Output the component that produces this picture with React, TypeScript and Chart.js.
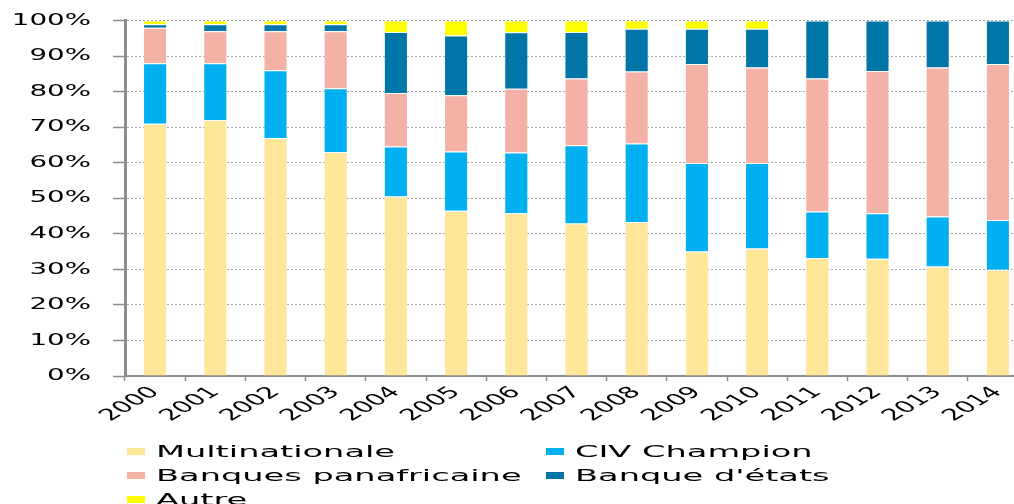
import React, { useEffect, useRef } from "react";
import { Chart, registerables } from "chart.js";

Chart.register(...registerables);

const years = ["2000", "2001", "2002", "2003", "2004", "2005", "2006", "2007", "2008", "2009", "2010", "2011", "2012", "2013", "2014"];
const multinationale = [71, 72, 67, 63, 50.5, 46.5, 45.8, 42.9, 43.3, 35, 35.9, 33.2, 33, 30.8, 29.9];
const civChampion = [17, 16, 19, 18, 14.1, 16.7, 17.1, 22, 22.1, 24.9, 24, 13.1, 12.8, 14.1, 14];
const banquesPanafricaine = [10, 9, 11, 16, 15, 15.8, 17.9, 18.8, 20.3, 27.9, 26.9, 37.4, 40, 41.9, 43.9];
const banqueEtats = [1, 2, 2, 2, 17.2, 16.8, 15.9, 13.1, 12, 9.9, 10.9, 16.3, 14.2, 13.2, 12.2];
const autre = [1, 1, 1, 1, 3.2, 4.2, 3.3, 3.2, 2.3, 2.3, 2.3, 0, 0, 0, 0];

const seriesNames = ["Multinationale", "CIV Champion", "Banques panafricaine", "Banque d'états", "Autre"];
const seriesColors = ["#FFE699", "#00B0F0", "#F4B2A7", "#0075A8", "#FFFF00"];
const seriesValues = [multinationale, civChampion, banquesPanafricaine, banqueEtats, autre];

const FONT = "'DejaVu Sans', sans-serif";
const TEXT_STRETCH = 1.73;
const LEGEND_STRETCH = 2.1;
const CANVAS_SHIFT = 11;

export default function App() {
  const canvasRef = useRef<HTMLCanvasElement | null>(null);

  useEffect(() => {
    document.body.style.margin = "0";
    const canvas = canvasRef.current!;
    const ctx = canvas.getContext("2d")!;
    const origFill = ctx.fillText;
    (ctx as any).fillText = function (text: string, x: number, y: number, maxWidth?: number) {
      const m = this.getTransform();
      const px = m.a * x + m.c * y + m.e;
      const py = m.b * x + m.d * y + m.f;
      this.save();
      this.setTransform(new DOMMatrix().translate(px, py).scale(TEXT_STRETCH, 1).translate(-px, -py).multiply(m));
      if (maxWidth === undefined) origFill.call(this, text, x, y);
      else origFill.call(this, text, x, y, maxWidth);
      this.restore();
    };

    const chart = new Chart(canvas, {
      type: "bar",
      data: {
        labels: years,
        datasets: seriesNames.map((name, i) => ({
          label: name,
          data: seriesValues[i],
          backgroundColor: seriesColors[i],
          borderColor: "rgba(255,255,255,0.35)",
          borderWidth: 1,
          barPercentage: 0.4,
          categoryPercentage: 1,
        })),
      },
      options: {
        responsive: false,
        animation: false,
        maintainAspectRatio: false,
        layout: { padding: { top: 10, right: 2, bottom: 0, left: 0 } },
        plugins: {
          legend: { display: false },
          tooltip: { enabled: false },
        },
        scales: {
          x: {
            stacked: true,
            afterFit: (s: any) => {
              s.height = 128;
            },
            grid: {
              display: true,
              drawOnChartArea: false,
              drawTicks: true,
              tickLength: 5,
              color: "#8c8c8c",
              tickWidth: 1.5,
              offset: true,
            },
            border: { display: true, color: "#8c8c8c", width: 2 },
            ticks: {
              autoSkip: false,
              minRotation: 45,
              maxRotation: 45,
              padding: 2,
              color: "#000",
              font: { family: FONT, size: 16 },
            },
          },
          y: {
            stacked: true,
            min: 0,
            max: 100,
            afterFit: (s: any) => {
              s.width = 125;
            },
            grid: {
              color: "#a6a6a6",
              lineWidth: 1,
              drawTicks: true,
              tickLength: 12,
              tickColor: "#8c8c8c",
              tickWidth: 1.5,
              tickBorderDash: [],
              borderDash: [2, 2],
            } as any,
            border: { display: true, color: "#8c8c8c", width: 3, dash: [2, 2] },
            ticks: {
              stepSize: 10,
              padding: 22,
              color: "#000",
              font: { family: FONT, size: 16 },
              callback: (v: any) => `${v}%`,
            },
          },
        },
      },
    });
    return () => {
      chart.destroy();
    };
  }, []);

  const legendCols = [127, 546];
  return (
    <div style={{ position: "relative", width: 1014, height: 504, overflow: "hidden", background: "#fff" }}>
      <canvas
        ref={canvasRef}
        width={1030}
        height={504 + CANVAS_SHIFT}
        style={{ display: "block", marginTop: -CANVAS_SHIFT }}
      />
      {seriesNames.map((name, i) => {
        const col = i % 2;
        const row = Math.floor(i / 2);
        return (
          <div
            key={name}
            style={{
              position: "absolute",
              left: legendCols[col],
              top: 441 + row * 24,
              height: 21,
              display: "flex",
              alignItems: "center",
              whiteSpace: "nowrap",
            }}
          >
            <div style={{ width: 18, height: 7, background: seriesColors[i], marginRight: 11 }} />
            <span
              style={{
                display: "inline-block",
                fontFamily: FONT,
                fontSize: 16,
                color: "#000",
                transform: `scaleX(${LEGEND_STRETCH})`,
                transformOrigin: "left center",
                lineHeight: "21px",
              }}
            >
              {name}
            </span>
          </div>
        );
      })}
    </div>
  );
}
